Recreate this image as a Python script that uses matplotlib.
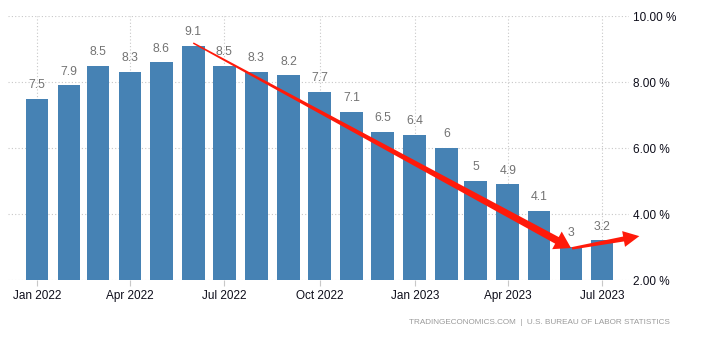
import numpy as np
import pandas as pd
import matplotlib
matplotlib.use('Agg')
import matplotlib.pyplot as plt
import matplotlib.dates as mdates
from matplotlib.patches import Polygon
from matplotlib.transforms import IdentityTransform

# data
months = ['2022-01-01', '2022-02-01', '2022-03-01', '2022-04-01', '2022-05-01',
          '2022-06-01', '2022-07-01', '2022-08-01', '2022-09-01', '2022-10-01',
          '2022-11-01', '2022-12-01', '2023-01-01', '2023-02-01', '2023-03-01',
          '2023-04-01', '2023-05-01', '2023-06-01', '2023-07-01']
inflation = [7.5, 7.9, 8.5, 8.3, 8.6, 9.1, 8.5, 8.3, 8.2, 7.7,
             7.1, 6.5, 6.4, 6, 5, 4.9, 4.1, 3, 3.2]
value_labels = ['7.5', '7.9', '8.5', '8.3', '8.6', '9.1', '8.5', '8.3', '8.2', '7.7',
                '7.1', '6.5', '6.4', '6', '5', '4.9', '4.1', '3', '3.2']
y_ticks = [2, 4, 6, 8, 10]
y_ticklabels = ['2.00 %', '4.00 %', '6.00 %', '8.00 %', '10.00 %']
source = 'TRADINGECONOMICS.COM  |  U.S. BUREAU OF LABOR STATISTICS'

dates = pd.to_datetime(months)
BAR = '#4682b4'
GRID = '#c8c8c8'
FONT = ['Liberation Sans', 'DejaVu Sans']
plt.rcParams['font.family'] = FONT

fig = plt.figure(figsize=(7.12, 3.37), dpi=100)
ax = fig.add_axes([0.0112, 0.1691, 0.8722, 0.7834])

ax.bar(dates, [v - 2 for v in inflation], bottom=2, width=22, color=BAR, zorder=3)
for d, v, s in zip(dates, inflation, value_labels):
    ax.annotate(s, (d, v), xytext=(0, 5.5), textcoords='offset points',
                ha='center', va='bottom', fontsize=8.8, color='#737373', zorder=4)

ax.set_xlim(pd.Timestamp('2021-12-04'), pd.Timestamp('2023-07-27'))
ax.set_ylim(2, 10)
ax.set_yticks(y_ticks)
ax.set_yticklabels(y_ticklabels)
ax.yaxis.tick_right()
ax.xaxis.set_major_locator(mdates.MonthLocator(bymonth=[1, 4, 7, 10]))
ax.xaxis.set_major_formatter(mdates.DateFormatter('%b %Y'))
ax.tick_params(axis='x', length=4, color=GRID, labelsize=8.5, labelcolor='#0d0d1a', pad=3)
ax.tick_params(axis='y', length=0, labelsize=8.5, labelcolor='#0d0d1a', pad=3)
ax.grid(True, color=GRID, linestyle=(0, (1, 2)), linewidth=0.8, zorder=0)
for sp in ax.spines.values():
    sp.set_visible(False)


def taper_arrow(p0, p1, w0, w1, head_w, head_len):
    a = ax.transData.transform(p0)
    b = ax.transData.transform(p1)
    d = (b - a) / np.hypot(*(b - a))
    n = np.array([-d[1], d[0]])
    base = b - d * head_len
    pts = [a + n * w0 / 2, base + n * w1 / 2, base + n * head_w / 2, b,
           base - n * head_w / 2, base - n * w1 / 2, a - n * w0 / 2]
    fig.add_artist(Polygon(pts, closed=True, transform=IdentityTransform(),
                           facecolor='#ff1a0a', edgecolor='none', zorder=10))


peak = int(np.argmax(inflation))
low = int(np.argmin(inflation))
taper_arrow((mdates.date2num(dates[peak]), inflation[peak] + 0.08),
            (mdates.date2num(dates[low]), inflation[low] - 0.03),
            1.5, 7.5, 20, 16)
taper_arrow((mdates.date2num(dates[low]) + 1, inflation[low] - 0.04),
            (mdates.date2num(dates[-1]) + 36, inflation[-1] + 0.13),
            2.5, 5, 16, 16)

fig.text(670 / 712, 1 - 322 / 337, source, ha='right', va='center',
         fontsize=5.9, color='#9a9a9a')

fig.savefig('out.png', dpi=100)
